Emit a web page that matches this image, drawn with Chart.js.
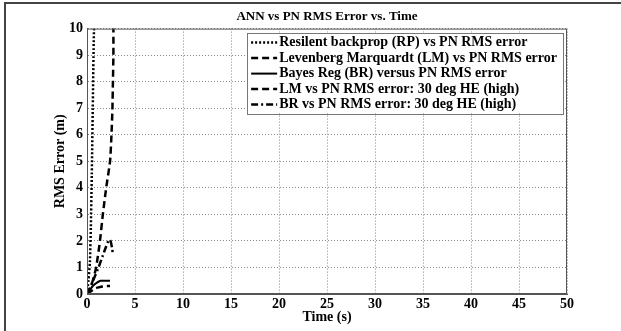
<!DOCTYPE html>
<html>
<head>
<meta charset="utf-8">
<script src="https://cdn.jsdelivr.net/npm/chart.js@4"></script>
<style>
  html, body { margin: 0; padding: 0; background: #fff; }
  #wrap { width: 621px; height: 331px; }
</style>
</head>
<body>
<div id="wrap"><canvas id="chart" width="621" height="331"></canvas></div>
<script>
// values (time in s, error in m)
const rpTime = [0, 0.15, 0.3, 0.4, 0.5, 0.6, 0.7, 0.8];
const rpErr  = [0, 0.5, 1.2, 2.5, 4.5, 7, 9.5, 11];

const lmTime = [0, 0.3, 0.6, 0.95, 1.35, 1.65, 2.0, 2.4, 2.55, 2.65, 2.7, 2.75, 2.75];
const lmErr  = [0, 0.2, 0.5, 1.0, 2.0, 3.0, 4.0, 5.0, 6.0, 7.0, 8.0, 9.0, 10.5];

const brTime = [0, 0.3, 0.6, 1.0, 1.4, 1.8, 2.4];
const brErr  = [0, 0.15, 0.3, 0.42, 0.5, 0.5, 0.5];

const lm30Time = [0, 0.4, 0.8, 1.2, 1.6, 2.0, 2.4];
const lm30Err  = [0, 0.1, 0.2, 0.25, 0.28, 0.3, 0.3];

const br30Time = [0, 0.4, 0.8, 1.2, 1.6, 2.0, 2.3, 2.45, 2.6, 2.7];
const br30Err  = [0, 0.3, 0.65, 1.0, 1.4, 1.8, 2.05, 2.0, 1.75, 1.5];

const seriesLabels = [
  'Resilent backprop (RP) vs PN RMS error',
  'Levenberg Marquardt (LM) vs PN RMS error',
  'Bayes Reg (BR) versus PN RMS error',
  'LM vs PN RMS error: 30 deg HE (high)',
  'BR vs PN RMS error: 30 deg HE (high)'
];

const xTicks = [0, 5, 10, 15, 20, 25, 30, 35, 40, 45, 50];
const yTicks = [0, 1, 2, 3, 4, 5, 6, 7, 8, 9, 10];

const FONT = '"Liberation Serif", "Times New Roman", serif';

function pts(xs, ys) {
  return xs.map((x, i) => ({ x: x, y: ys[i] }));
}

function series(label, xs, ys, dash, width) {
  return {
    label: label,
    data: pts(xs, ys),
    borderColor: '#000',
    backgroundColor: '#000',
    borderWidth: width,
    borderDash: dash,
    pointRadius: 0,
    fill: false,
    tension: 0.2
  };
}

// white page with the thin frame of the original figure
const framePlugin = {
  id: 'frame',
  beforeDraw(chart) {
    const ctx = chart.ctx;
    ctx.save();
    ctx.fillStyle = '#fff';
    ctx.fillRect(0, 0, chart.width, chart.height);
    ctx.strokeStyle = '#444';
    ctx.lineWidth = 2;
    ctx.beginPath();
    ctx.moveTo(5, 331);
    ctx.lineTo(5, 3);
    ctx.lineTo(621, 3);
    ctx.stroke();
    ctx.restore();
  },
  afterDatasetsDraw(chart) {
    const a = chart.chartArea;
    const ctx = chart.ctx;
    ctx.save();
    ctx.strokeStyle = '#555';
    ctx.lineWidth = 1;
    ctx.strokeRect(a.left + 0.5, a.top + 0.5, a.right - a.left - 1, a.bottom - a.top - 1);
    ctx.restore();
  }
};

// legend box inside the plot, top right
const boxLegend = {
  id: 'boxLegend',
  afterDatasetsDraw(chart) {
    const ctx = chart.ctx;
    const a = chart.chartArea;
    ctx.save();
    ctx.font = 'bold 14px ' + FONT;
    const sample = 26, gap = 2, padL = 4, padR = 6, rowH = 15.5;
    let textW = 0;
    chart.data.datasets.forEach(d => { textW = Math.max(textW, ctx.measureText(d.label).width); });
    const w = padL + sample + gap + textW + padR;
    const h = rowH * chart.data.datasets.length + 3;
    const right = a.right - 4;
    const left = right - w;
    const top = a.top + 4;
    ctx.fillStyle = '#fff';
    ctx.fillRect(left, top, w, h);
    ctx.strokeStyle = '#777';
    ctx.lineWidth = 1;
    ctx.strokeRect(Math.round(left) + 0.5, Math.round(top) + 0.5, Math.round(w), Math.round(h));
    chart.data.datasets.forEach((d, i) => {
      const y = top + 10 + i * rowH;
      ctx.strokeStyle = '#000';
      ctx.lineWidth = d.borderWidth;
      ctx.setLineDash(d.borderDash || []);
      ctx.beginPath();
      ctx.moveTo(left + padL, y);
      ctx.lineTo(left + padL + sample, y);
      ctx.stroke();
      ctx.setLineDash([]);
      ctx.fillStyle = '#000';
      ctx.textBaseline = 'middle';
      ctx.textAlign = 'left';
      ctx.fillText(d.label, left + padL + sample + gap, y);
    });
    ctx.restore();
  }
};

new Chart(document.getElementById('chart'), {
  type: 'line',
  data: {
    datasets: [
      series(seriesLabels[0], rpTime, rpErr, [2, 2], 2.5),
      series(seriesLabels[1], lmTime, lmErr, [7, 4], 2.5),
      series(seriesLabels[2], brTime, brErr, [], 2),
      series(seriesLabels[3], lm30Time, lm30Err, [7, 4], 2.5),
      series(seriesLabels[4], br30Time, br30Err, [7, 3, 2, 3], 2.5)
    ]
  },
  options: {
    responsive: false,
    animation: false,
    devicePixelRatio: 1,
    layout: { padding: { left: 0, right: 54, top: 0, bottom: 0 } },
    plugins: {
      legend: { display: false },
      tooltip: { enabled: false },
      title: {
        display: true,
        fullSize: false,
        text: 'ANN vs PN RMS Error vs. Time',
        color: '#000',
        font: { family: FONT, size: 13, weight: 'bold', lineHeight: 1.2 },
        padding: { top: 9, bottom: 4 }
      }
    },
    scales: {
      x: {
        type: 'linear',
        min: 0,
        max: 50,
        afterBuildTicks(scale) { scale.ticks = xTicks.map(v => ({ value: v })); },
        afterFit(scale) { scale.height = 37; },
        ticks: {
          color: '#000',
          padding: 2,
          maxRotation: 0,
          autoSkip: false,
          font: { family: FONT, size: 14, weight: 'bold' }
        },
        grid: { color: '#888', lineWidth: 1, drawTicks: false },
        border: { display: true, color: '#555', dash: [1, 2] },
        title: {
          display: true,
          text: 'Time (s)',
          color: '#000',
          font: { family: FONT, size: 14, weight: 'bold', lineHeight: 1.2 },
          padding: { top: 0, bottom: 5 }
        }
      },
      y: {
        type: 'linear',
        min: 0,
        max: 10,
        afterBuildTicks(scale) { scale.ticks = yTicks.map(v => ({ value: v })); },
        afterFit(scale) { scale.width = 87; },
        ticks: {
          color: '#000',
          padding: 4,
          autoSkip: false,
          font: { family: FONT, size: 14, weight: 'bold' }
        },
        grid: { color: '#888', lineWidth: 1, drawTicks: false },
        border: { display: true, color: '#555', dash: [1, 2] },
        title: {
          display: true,
          text: 'RMS Error (m)',
          color: '#000',
          font: { family: FONT, size: 14, weight: 'bold', lineHeight: 1.2 },
          padding: { top: 52, bottom: 0 }
        }
      }
    }
  },
  plugins: [framePlugin, boxLegend]
});
</script>
</body>
</html>
